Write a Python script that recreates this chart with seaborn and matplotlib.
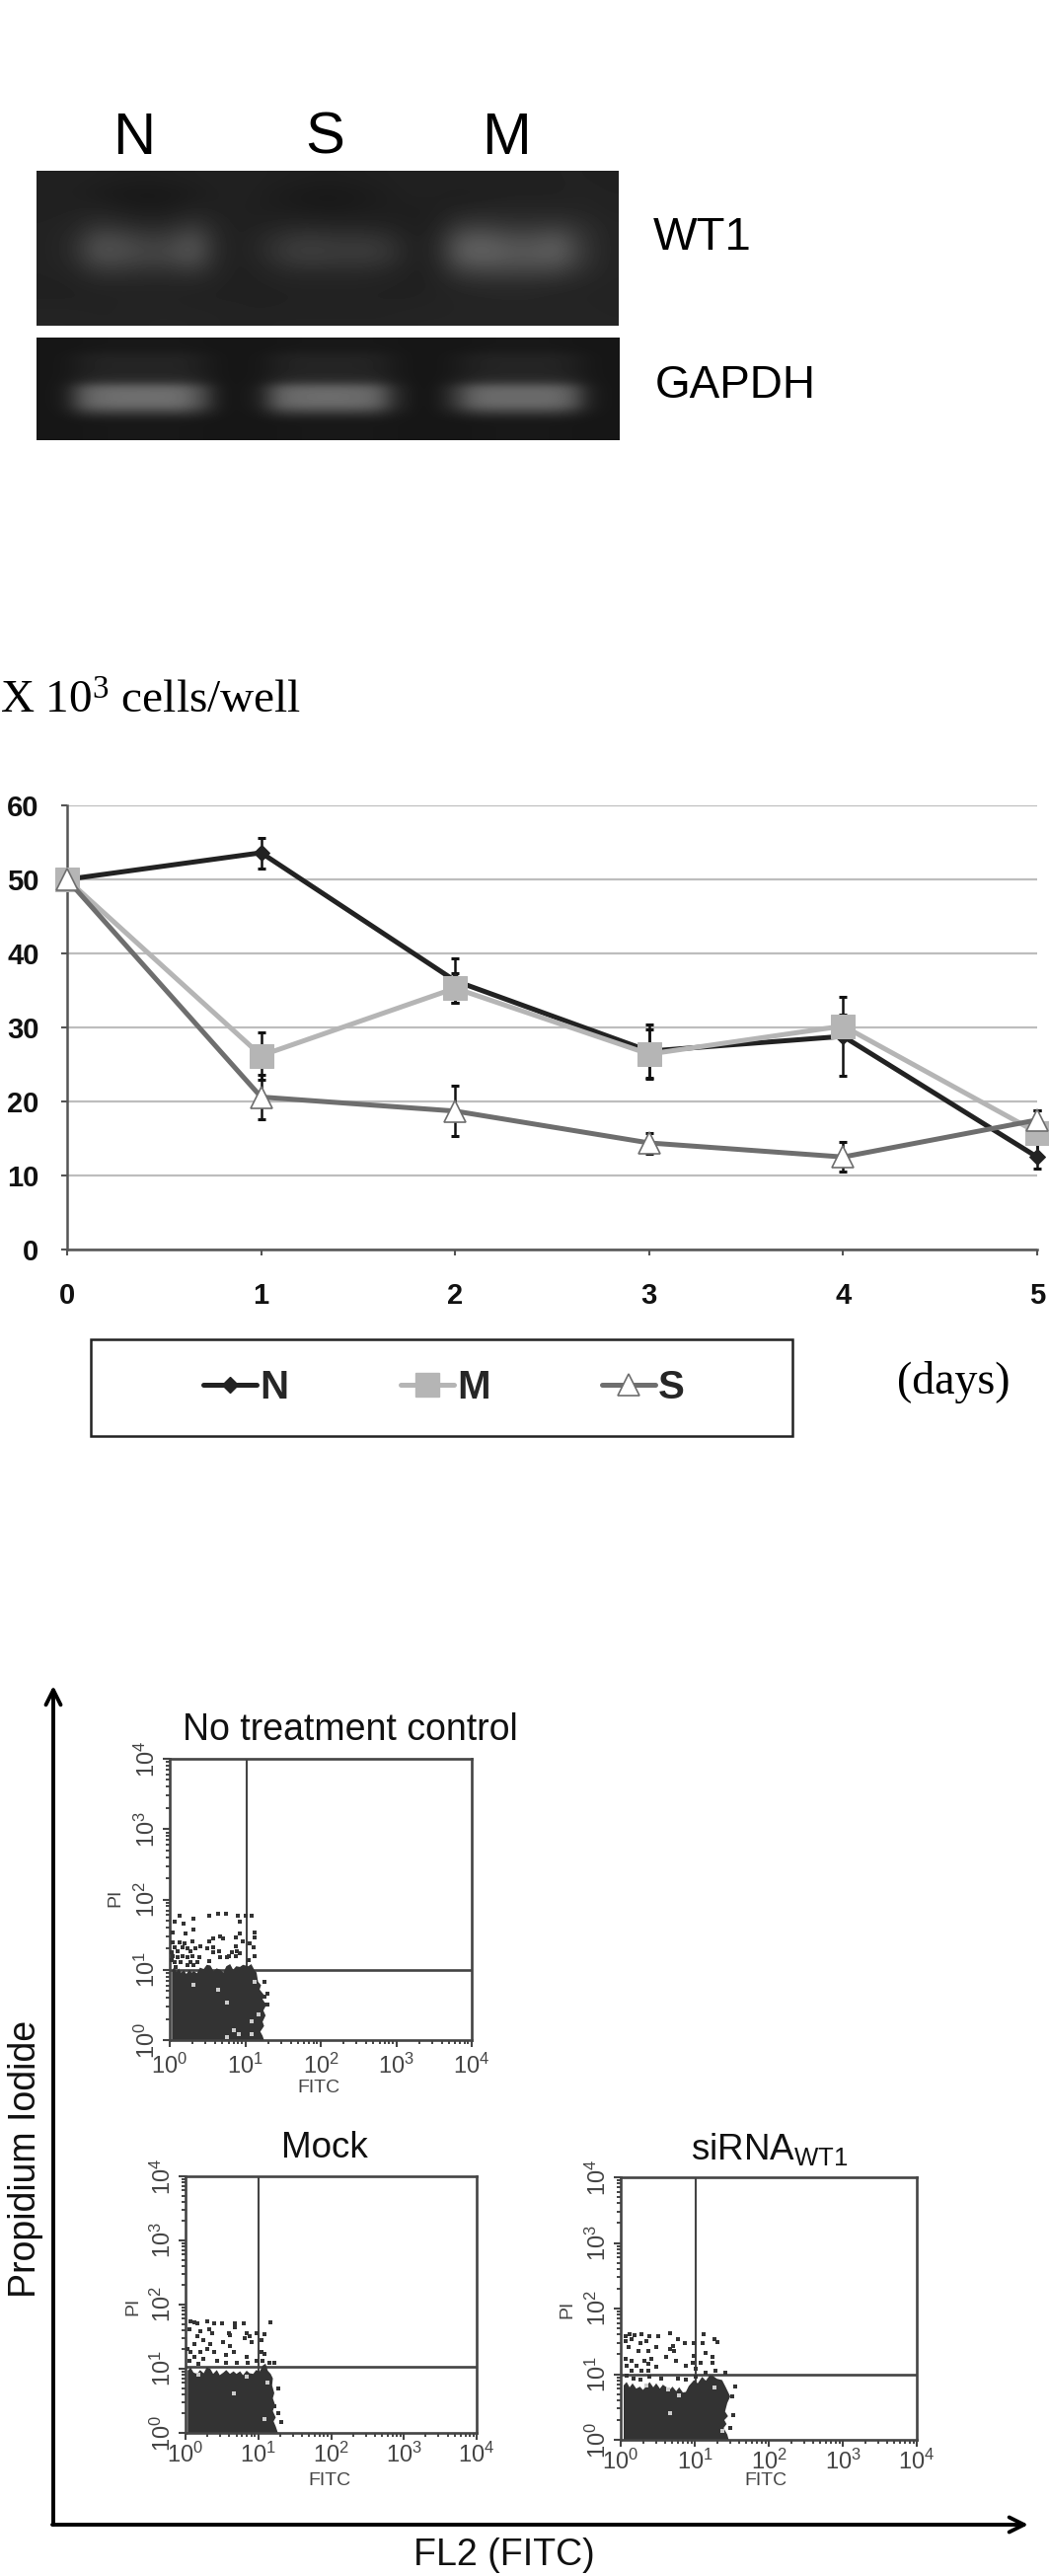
import numpy as np
import pandas as pd
import seaborn as sns
import matplotlib
matplotlib.use("Agg")
import matplotlib.pyplot as plt
from matplotlib.lines import Line2D
from matplotlib.patches import Rectangle
from matplotlib.ticker import LogLocator, NullFormatter, FixedLocator, FixedFormatter

# ---------- gel intensities (grey levels) ----------
gel1_rows = [
    [32,33,32,31,30,31,32,33,33,32,31,30,30,31,32,33,33,34,34,33,33,34,34,33],
    [32,32,28,25,24,25,28,32,33,30,27,25,25,27,30,33,32,30,31,33,33,33,35,34],
    [33,33,34,30,27,28,34,32,32,30,28,26,26,28,30,30,31,35,37,37,37,37,36,34],
    [34,36,50,46,40,42,54,36,32,34,38,38,36,36,34,30,33,56,58,52,52,56,46,36],
    [34,42,78,74,62,64,84,38,32,44,56,58,54,56,50,32,38,88,92,80,80,90,54,36],
    [34,42,80,76,68,70,86,38,32,44,60,62,58,60,54,32,38,92,98,88,88,94,56,36],
    [34,36,52,52,48,48,54,36,32,36,42,42,42,42,38,32,35,62,66,66,66,64,46,36],
    [33,33,35,35,35,35,35,33,33,33,34,34,34,34,33,33,34,38,41,41,40,38,36,35],
    [34,34,34,35,35,35,34,34,34,33,34,34,34,34,34,34,35,36,36,37,37,36,36,35],
    [36,36,35,35,36,36,36,35,34,35,35,35,35,35,35,36,36,36,37,37,37,37,37,36],
]
gel2_bg    = [22,22,23,24,24,24,24,24,23,22,22,22,23,24,24,24,24,24,23,22,22,22,23,24,24,24,24,23,22,22]
gel2_smear = [22,24,32,36,36,36,36,36,30,23,22,24,32,36,36,36,36,34,26,22,22,26,33,36,36,36,36,32,24,22]
gel2_glow  = [22,25,40,46,46,46,46,46,36,23,22,25,40,46,46,46,46,44,28,22,22,30,42,46,46,46,46,40,25,22]
gel2_band  = [22,28,96,108,110,110,110,108,76,24,22,32,98,106,108,108,106,100,42,22,22,54,100,106,106,106,106,92,30,22]
gel2_fade  = [22,24,56,62,62,62,62,62,46,23,22,25,56,60,60,60,60,56,30,22,22,34,56,60,60,60,60,50,25,22]
gel2_rows = [gel2_bg, gel2_bg, gel2_smear, gel2_smear, gel2_smear, gel2_glow, gel2_band,
             gel2_band, gel2_band, gel2_fade, gel2_bg, gel2_bg, gel2_bg]
lane_labels = ["N", "S", "M"]

# ---------- growth curve ----------
days = [0, 1, 2, 3, 4, 5]
n_vals = [50, 53.6, 36.3, 26.8, 28.8, 12.5]
m_vals = [50, 26.2, 35.3, 26.4, 30.2, 15.8]
s_vals = [50, 20.6, 18.7, 14.4, 12.5, 17.5]
n_low = [0, 2.1, 3.0, 3.6, 5.3, 1.6]
n_up  = [0, 2.0, 3.0, 3.6, 2.9, 1.9]
m_low = [0, 3.2, 2.0, 3.3, 1.5, 3.0]
m_up  = [0, 3.2, 2.0, 3.3, 4.0, 3.0]
s_low = [0, 3.0, 3.3, 1.4, 1.9, 1.3]
s_up  = [0, 3.0, 3.5, 1.3, 2.0, 1.3]

# ---------- flow cytometry panels (log10 FITC, log10 PI) ----------
p1_cloud_x = [.03,.03,.06,.09,.12,.15,.19,.22,.26,.29,.32,.36,.40,.45,.49,.54,.58,.62,.67,.71,.75,.80,.84,.88,.93,.97,1.04,1.08,1.12,1.15,
              1.17,1.21,1.19,1.25,1.23,1.28,1.24,1.27,1.23,1.25,1.20,1.23,1.25]
p1_cloud_y = [0,.99,1.04,.97,1.02,.96,.99,.94,1.00,.96,.98,.95,1.03,1.01,1.07,1.06,.98,1.02,1.00,.96,1.05,1.08,1.00,1.05,1.04,1.07,1.05,1.08,1.00,.96,
              .83,.78,.72,.64,.58,.50,.42,.35,.26,.20,.12,.06,0]
p1_dot_x = [.13,.31,.52,.64,.75,.90,1.01,1.08,.06,.18,.31,.93,.04,.21,.52,.58,.67,.70,.88,.93,1.12,1.12,.97,
            .13,.19,.30,.04,.06,.10,.17,.24,.28,.34,.41,.50,.58,.65,.58,.82,.88,.89,.93,1.06,1.11,1.13,.04,.10,
            .17,.24,.30,.39,.37,.52,.67,.78,.76,.87,1.04,1.26,1.30,1.24,1.30,1.26,.15,.24,.32,.06,.28,.08,.02,.03]
p1_dot_y = [1.77,1.73,1.77,1.80,1.80,1.77,1.77,1.77,1.69,1.65,1.57,1.69,1.53,1.51,1.41,1.45,1.47,1.44,1.46,1.51,1.53,1.46,1.41,
            1.39,1.38,1.41,1.39,1.32,1.27,1.32,1.30,1.27,1.30,1.34,1.30,1.32,1.27,1.25,1.25,1.34,1.27,1.23,1.37,1.32,1.20,1.20,1.18,
            1.20,1.18,1.20,1.18,1.11,1.12,1.18,1.20,1.18,1.20,1.13,.83,.66,.50,.51,.62,1.11,1.06,1.06,1.11,1.11,1.04,1.25,1.13]
p1_hole_x = [.31,.64,.76,1.08,1.17,.85,.91,.76,1.08,1.13]
p1_hole_y = [.79,.72,.54,.27,.36,.14,.08,.04,.08,.83]

p2_cloud_x = [.03,.03,.07,.11,.16,.20,.25,.29,.34,.38,.43,.47,.52,.56,.61,.66,.70,.75,.79,.84,.88,.93,.97,1.02,1.06,1.10,1.13,
              1.17,1.20,1.19,1.22,1.20,1.23,1.20,1.24,1.21,1.24,1.27]
p2_cloud_y = [0,.97,1.02,.94,.92,.98,.93,1.02,1.00,.92,.98,.90,.94,.98,.92,.96,.92,.96,.90,.97,.93,.92,.98,.96,1.05,1.08,.97,
              .92,.85,.74,.62,.54,.44,.34,.24,.18,.10,0]
p2_dot_x = [.07,.12,.16,.05,.30,.39,.50,.68,.80,1.16,.68,.21,.32,.59,.61,.84,.97,1.09,.16,.36,.82,.88,1.04,
            .03,.12,.25,.34,.52,.61,.66,.91,.07,.21,.30,.39,.55,1.04,1.09,.84,.12,.25,.43,.55,.70,.86,.97,1.06,
            1.15,1.22,.05,.18,1.27,1.27,1.32,1.22]
p2_dot_y = [1.74,1.72,1.71,1.62,1.74,1.71,1.71,1.71,1.71,1.72,1.64,1.59,1.62,1.56,1.52,1.56,1.56,1.54,1.51,1.56,1.47,1.51,1.44,
            1.31,1.38,1.44,1.38,1.41,1.36,1.26,1.41,1.26,1.26,1.31,1.26,1.21,1.26,1.23,1.18,1.18,1.15,1.13,1.10,1.10,1.10,1.13,1.13,
            1.10,1.09,1.13,1.08,.69,.31,.17,.41]
p2_hole_x = [.66,1.08,.84,.18,1.13]
p2_hole_y = [.62,.21,.87,.91,.79]

p3_cloud_x = [.04,.04,.08,.12,.16,.21,.26,.30,.35,.39,.44,.48,.53,.57,.62,.66,.70,.75,.79,.84,.88,.92,.99,1.04,1.10,1.15,1.20,1.24,1.30,1.37,
              1.42,1.48,1.44,1.41,1.45,1.40,1.43,1.39,1.44,1.46]
p3_cloud_y = [0,.83,.88,.80,.86,.78,.81,.76,.82,.88,.80,.86,.78,.84,.80,.76,.81,.74,.80,.72,.73,.82,.91,.86,.96,.90,.98,.98,.93,.91,
              .80,.66,.56,.43,.36,.30,.24,.18,.08,0]
p3_dot_x = [.06,.12,.19,.28,.39,.50,.66,.77,1.12,1.26,1.30,.06,.15,.26,.35,.48,.70,.86,.99,1.10,.10,.24,.37,
            .66,.72,.99,1.15,1.24,.06,.15,.32,.41,.61,.75,.97,1.08,1.24,.08,.21,.37,.88,.48,.15,.28,.37,1.01,
            1.15,1.28,1.41,.08,.17,.26,.39,.55,.77,.88,1.01,1.50,1.52,1.48,1.55]
p3_dot_y = [1.58,1.61,1.59,1.61,1.58,1.58,1.63,1.54,1.61,1.53,1.49,1.51,1.53,1.48,1.51,1.42,1.43,1.48,1.48,1.48,1.41,1.36,1.36,
            1.38,1.36,1.28,1.33,1.26,1.23,1.21,1.21,1.23,1.26,1.21,1.18,1.18,1.18,1.13,1.13,1.16,1.13,1.11,1.06,1.06,1.06,1.08,
            1.03,1.06,1.03,.98,.93,.91,.96,.93,.93,.91,.96,.66,.38,.18,.81]
p3_hole_x = [.66,.79,.35,1.37,1.26,.64]
p3_hole_y = [.41,.68,.83,.13,.79,.76]

flow_ticks = [1, 10, 100, 1000, 10000]
flow_tick_labels = ["$10^{0}$", "$10^{1}$", "$10^{2}$", "$10^{3}$", "$10^{4}$"]
gate_p1 = (10.6, 9.9)
gate_p2 = (10.0, 10.7)
gate_p3 = (10.2, 9.8)

# ---------- figure ----------
W, H = 1063, 2610
sns.set_theme(style="white")
plt.rcParams["font.family"] = ["Liberation Sans", "DejaVu Sans"]
plt.rcParams["mathtext.default"] = "regular"
fig = plt.figure(figsize=(W / 100, H / 100), dpi=100, facecolor="white")

def ax_at(left, top, right, bottom, **kw):
    return fig.add_axes([left / W, 1 - bottom / H, (right - left) / W, (bottom - top) / H], **kw)

page = ax_at(0, 0, W, H)
page.set_xlim(0, W)
page.set_ylim(H, 0)
page.axis("off")

def label(x, y, s, size, **kw):
    kw.setdefault("ha", "center")
    kw.setdefault("va", "center")
    kw.setdefault("color", "#111111")
    page.text(x, y, s, fontsize=size, **kw)

# ---------- gels ----------
for rows, box in ((gel1_rows, (37, 173, 627, 330)), (gel2_rows, (37, 342, 627, 446))):
    g = ax_at(*box)
    g.imshow(np.array(rows), cmap="gray", vmin=0, vmax=255, aspect="auto", interpolation="bicubic")
    g.axis("off")

for x, s in zip((136, 329, 513), lane_labels):
    label(x, 140, s, 43, color="black")
label(712, 241, "WT1", 34, color="black")
label(745, 391, "GAPDH", 33, color="black")

# ---------- growth curve ----------
label(0, 711, "X 10$^{3}$ cells/well", 34, ha="left", family="Liberation Serif", color="black")
label(966, 1400, "(days)", 33, family="Liberation Serif", color="black")

ax = ax_at(68, 816, 1051, 1266)
df = pd.DataFrame({"day": days, "N": n_vals, "M": m_vals, "S": s_vals})
for vals, lo, up in ((n_vals, n_low, n_up), (m_vals, m_low, m_up), (s_vals, s_low, s_up)):
    eb = ax.errorbar(days, vals, yerr=[lo, up], fmt="none", ecolor="#111111",
                     elinewidth=1.8, capsize=3, capthick=2.2, zorder=3)
    for art in list(eb.lines[1]) + list(eb.lines[2]):
        art.set_clip_on(False)

series_style = {
    "N": dict(color="#222222", marker="D", markersize=8, markerfacecolor="#222222", markeredgecolor="#222222"),
    "M": dict(color="#b5b5b5", marker="s", markersize=17, markerfacecolor="#b5b5b5", markeredgecolor="#b5b5b5"),
    "S": dict(color="#6e6e6e", marker="^", markersize=16, markerfacecolor="white", markeredgecolor="#6e6e6e",
              markeredgewidth=1.2),
}
for z, name in enumerate(("N", "M", "S")):
    sns.lineplot(data=df, x="day", y=name, ax=ax, linewidth=3.6, zorder=4 + z, clip_on=False,
                 errorbar=None, **series_style[name])

ax.set_xlim(0, 5)
ax.set_ylim(0, 60)
ax.set_xticks(days)
ax.set_yticks(range(0, 61, 10))
ax.set_xlabel("")
ax.set_ylabel("")
ax.yaxis.grid(True, color="#bdbdbd", linewidth=1.6)
ax.xaxis.grid(False)
ax.set_axisbelow(True)
sns.despine(ax=ax)
for sp in ("left", "bottom"):
    ax.spines[sp].set_color("#555555")
    ax.spines[sp].set_linewidth(1.8)
ax.tick_params(axis="x", length=4.5, width=1.5, color="#555555", bottom=True, pad=19, labelsize=21)
ax.tick_params(axis="y", length=4.5, width=1.5, color="#555555", left=True, pad=16, labelsize=21)
for t in ax.get_xticklabels() + ax.get_yticklabels():
    t.set_fontweight("bold")
    t.set_color("#111111")

page.add_patch(Rectangle((92, 1357), 711, 98, fill=False, edgecolor="#222222", linewidth=1.8))
handles = [Line2D([], [], linewidth=3.6, label=k, **series_style[k]) for k in ("N", "M", "S")]
leg = page.legend(handles=handles, loc="center", bbox_to_anchor=(450, 1406), bbox_transform=page.transData,
                  ncol=3, frameon=False, handlelength=1.35, handletextpad=0.08, columnspacing=2.8,
                  prop={"size": 29, "weight": "bold"})

# ---------- flow panels ----------
def flow_panel(box, cloud_x, cloud_y, dot_x, dot_y, hole_x, hole_y, gate, xpad):
    a = ax_at(*box)
    a.set_xscale("log")
    a.set_yscale("log")
    a.set_xlim(1, 10000)
    a.set_ylim(1, 10000)
    a.fill(10 ** np.array(cloud_x), 10 ** np.array(cloud_y), color="#333333", linewidth=0, zorder=2)
    sns.scatterplot(x=10 ** np.array(dot_x), y=10 ** np.array(dot_y), ax=a, s=5.5, color="#333333",
                    linewidth=0, marker="s", zorder=3)
    sns.scatterplot(x=10 ** np.array(hole_x), y=10 ** np.array(hole_y), ax=a, s=5, color="#cccccc",
                    linewidth=0, marker="s", zorder=4)
    a.axvline(gate[0], color="#444444", linewidth=1.5, zorder=1)
    a.axhline(gate[1], color="#444444", linewidth=1.9, zorder=1)
    for sp in a.spines.values():
        sp.set_color("#444444")
        sp.set_linewidth(1.9)
    for axis in (a.xaxis, a.yaxis):
        axis.set_major_locator(FixedLocator(flow_ticks))
        axis.set_major_formatter(FixedFormatter(flow_tick_labels))
        axis.set_minor_locator(LogLocator(base=10, subs=(2, 3, 4, 5, 6, 7, 8, 9), numticks=10))
        axis.set_minor_formatter(NullFormatter())
    a.tick_params(which="major", length=5, width=1.5, color="#444444", labelsize=17,
                  labelcolor="#444444", pad=2, bottom=True, left=True)
    a.tick_params(axis="x", which="major", pad=xpad)
    a.tick_params(which="minor", length=3, width=1.4, color="#444444", bottom=True, left=True)
    for t in a.get_yticklabels():
        t.set_rotation(90)
        t.set_va("center")
    return a

flow_panel((172, 1782, 478, 2067), p1_cloud_x, p1_cloud_y, p1_dot_x, p1_dot_y, p1_hole_x, p1_hole_y, gate_p1, 5)
flow_panel((188, 2205, 483, 2465), p2_cloud_x, p2_cloud_y, p2_dot_x, p2_dot_y, p2_hole_x, p2_hole_y, gate_p2, 2)
flow_panel((629, 2206, 929, 2472), p3_cloud_x, p3_cloud_y, p3_dot_x, p3_dot_y, p3_hole_x, p3_hole_y, gate_p3, 2)

label(355, 1753, "No treatment control", 27)
label(329, 2177, "Mock", 26.5)
label(780, 2177, "siRNA$_{WT1}$", 26.5)
label(376, 2040, "4.77%", 26)
label(376, 2440, "4.92%", 26)
label(834, 2440, "18.98%", 26)
for x, y in ((323, 2115), (334, 2513), (776, 2513)):
    label(x, y, "FITC", 14, color="#444444")
for x, y in ((117, 1923), (135, 2337), (575, 2340)):
    label(x, y, "PI", 14, color="#444444", rotation=90)

arrow = dict(arrowstyle="->,head_length=0.9,head_width=0.45", color="black", linewidth=2.8, shrinkA=0, shrinkB=0)
page.annotate("", xy=(54, 1708), xytext=(54, 2558), arrowprops=arrow)
page.annotate("", xy=(1042, 2558), xytext=(53, 2558), arrowprops=arrow)
label(26, 2187, "Propidium Iodide", 27, rotation=90)
label(511, 2589, "FL2 (FITC)", 27)

fig.savefig("out.png", dpi=100, facecolor="white")
